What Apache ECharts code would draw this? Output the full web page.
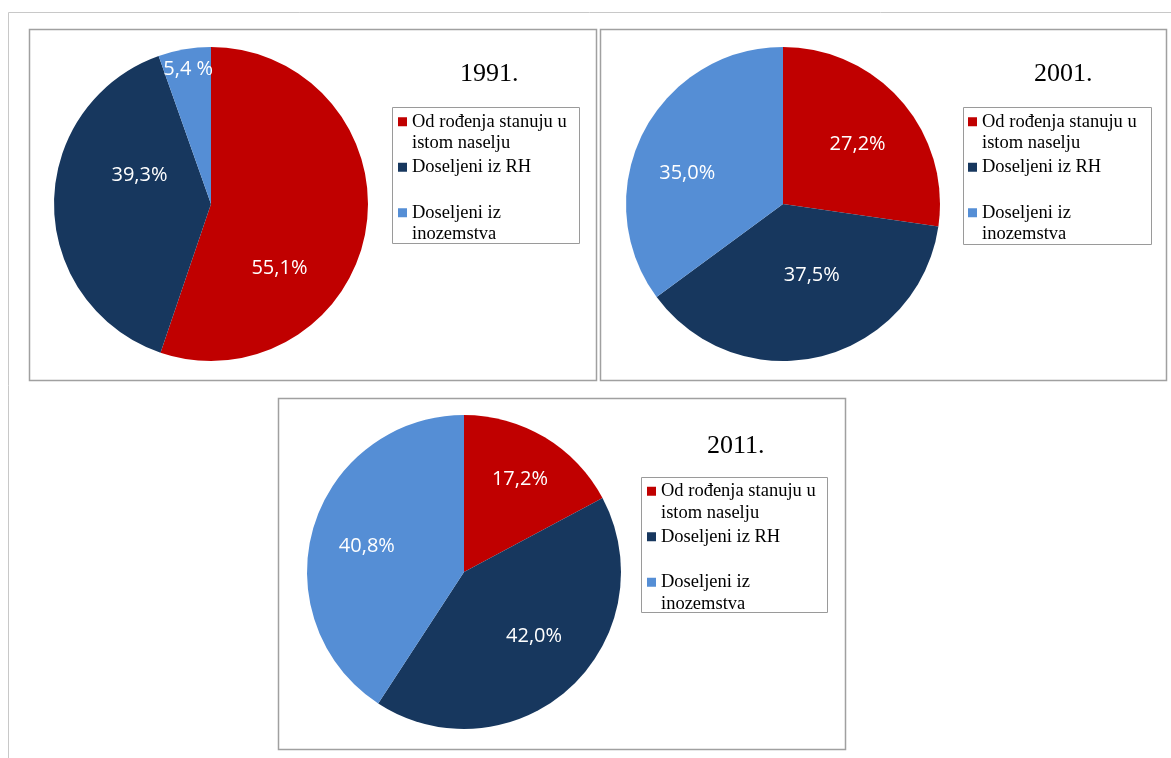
<!DOCTYPE html>
<html>
<head>
<meta charset="utf-8">
<title>Stanovništvo prema mjestu stanovanja</title>
<script src="https://cdn.jsdelivr.net/npm/echarts@6/dist/echarts.min.js"></script>
<style>
  html, body { margin: 0; padding: 0; background: #fff; }
  #chart { width: 1171px; height: 758px; }
</style>
</head>
<body>
<div id="chart"></div>
<script>
// kategorije i vrijednosti (%)
const categories = ['Od rođenja stanuju u istom naselju', 'Doseljeni iz RH', 'Doseljeni iz inozemstva']
const years = ['1991.', '2001.', '2011.']
const values1991 = [55.1, 39.3, 5.4]
const values2001 = [27.2, 37.5, 35.0]
const values2011 = [17.2, 42.0, 40.8]
const labels1991 = ['55,1%', '39,3%', '5,4 %']
const labels2001 = ['27,2%', '37,5%', '35,0%']
const labels2011 = ['17,2%', '42,0%', '40,8%']

const colors = ['#c00000', '#17375e', '#558ed5']
// tekst legende prelomljen kao u originalu
const legendText = {
  'Od rođenja stanuju u istom naselju': 'Od rođenja stanuju u\nistom naselju',
  'Doseljeni iz RH': 'Doseljeni iz RH\n',
  'Doseljeni iz inozemstva': 'Doseljeni iz\ninozemstva'
}

// raspored tri okvira
const panels = [
  { values: values1991, labels: labels1991, box: [29, 29, 567, 351], center: [211, 204],
    title: [460, 61], legend: [398, 89.5], legendBox: [392, 107, 187, 136],
    shift: [[-12, 51], [10, -29], [-9, -54]] },
  { values: values2001, labels: labels2001, box: [600, 29, 566, 351], center: [783, 204],
    title: [1034, 61], legend: [968, 89.5], legendBox: [963, 107, 188, 137],
    shift: [[13, -6], [9, -8], [-23, 6]] },
  { values: values2011, labels: labels2011, box: [278, 398, 567, 351], center: [464, 572],
    title: [707, 433], legend: [647, 459], legendBox: [641, 477, 186, 135],
    shift: [[14, -23], [15, 4], [-19, -2]] }
]

const myChart = echarts.init(document.getElementById('chart'))

const titles = []
const legends = []
const series = []
const graphics = [{
  type: 'polyline',
  silent: true,
  shape: { points: [[8.5, 758], [8.5, 12.5], [1171, 12.5]] },
  style: { stroke: '#c8c8c8', lineWidth: 1, fill: null }
}]

panels.forEach((p, i) => {
  graphics.push({
    type: 'rect',
    silent: true,
    shape: { x: p.box[0] + 0.5, y: p.box[1] + 0.5, width: p.box[2], height: p.box[3] },
    style: { stroke: '#a0a0a0', lineWidth: 1.5, fill: '#fff' },
    z: -10
  })
  graphics.push({
    type: 'rect',
    silent: true,
    shape: { x: p.legendBox[0] + 0.5, y: p.legendBox[1] + 0.5, width: p.legendBox[2], height: p.legendBox[3] },
    style: { stroke: '#9a9a9a', lineWidth: 1, fill: null }
  })
  titles.push({
    text: years[i],
    left: p.title[0],
    top: p.title[1],
    padding: 0,
    textStyle: { fontFamily: 'Liberation Serif', fontSize: 26, fontWeight: 'normal', color: '#000' }
  })
  legends.push({
    orient: 'vertical',
    left: p.legend[0],
    top: p.legend[1],
    padding: 0,
    itemWidth: 9,
    itemHeight: 9,
    itemGap: -19,
    icon: 'rect',
    selectedMode: false,
    data: categories,
    // prazan prvi red poravnava kvadratić s prvim redom teksta
    formatter: name => '\n' + legendText[name],
    textStyle: { fontFamily: 'Liberation Serif', fontSize: 18.5, lineHeight: 21.5, color: '#000' }
  })
  series.push({
    type: 'pie',
    name: years[i],
    center: p.center,
    radius: 157,
    startAngle: 90,
    clockwise: true,
    avoidLabelOverlap: false,
    emphasis: { disabled: true },
    itemStyle: { borderWidth: 0 },
    label: {
      show: true,
      position: 'inside',
      color: '#fff',
      fontFamily: 'Open Sans',
      fontSize: 20,
      formatter: params => p.labels[params.dataIndex]
    },
    labelLine: { show: false },
    labelLayout: params => ({ dx: p.shift[params.dataIndex][0], dy: p.shift[params.dataIndex][1] }),
    data: categories.map((c, k) => ({ name: c, value: p.values[k] }))
  })
})

const option = {
  animation: false,
  color: colors,
  title: titles,
  legend: legends,
  graphic: graphics,
  series: series
}
myChart.setOption(option)
</script>
</body>
</html>
